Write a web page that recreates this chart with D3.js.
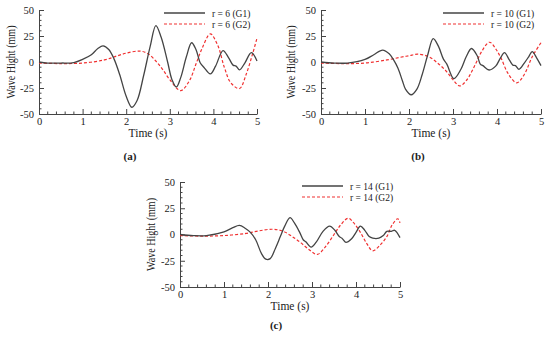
<!DOCTYPE html>
<html>
<head>
<meta charset="utf-8">
<script src="https://cdn.jsdelivr.net/npm/d3@7"></script>
<style>
  body { margin: 0; background: #fff; }
  svg text { font-family: "Liberation Serif", "Times New Roman", Times, serif; fill: #222; }
</style>
</head>
<body>
<script>
// wave heights (mm), time in s
var timeTicks = [0, 1, 2, 3, 4, 5];
var heightTicks = [-50, -25, 0, 25, 50];

var a_g1 = [[0,0],[0.2,-1],[0.5,-1],[0.8,-0.5],[1.0,2.5],[1.2,7],[1.35,13],[1.47,15.5],[1.6,12],[1.72,3],[1.85,-12],[2.0,-33],[2.13,-43.5],[2.25,-37],[2.4,-13],[2.55,15],[2.68,35],[2.8,24],[2.95,0],[3.05,-17],[3.15,-24],[3.25,-15],[3.38,5],[3.5,18.5],[3.6,12],[3.7,-1],[3.78,-5],[3.93,-11.5],[4.05,-4],[4.22,11],[4.35,4],[4.45,-3],[4.52,-4],[4.6,-7.5],[4.72,-1],[4.87,9],[5.0,1]];
var a_g2 = [[0,-1],[0.5,-1.5],[1.0,-1],[1.5,2],[1.8,6],[2.0,8.5],[2.3,10.5],[2.5,8],[2.7,0],[2.85,-8],[3.0,-17],[3.25,-27.5],[3.45,-18],[3.6,-2],[3.75,14],[3.93,27],[4.1,16],[4.25,-5],[4.4,-20],[4.6,-25.5],[4.75,-12],[4.9,8],[5.0,23]];

var b_g1 = [[0,0],[0.3,-1],[0.6,-1],[1.0,2.5],[1.2,7],[1.4,11.5],[1.55,8],[1.65,2],[1.75,-6],[1.85,-18],[1.92,-26],[2.05,-31.5],[2.18,-26],[2.3,-12],[2.42,6],[2.55,22.5],[2.67,15],[2.78,3],[2.86,-2],[3.02,-16],[3.18,-7],[3.3,5],[3.42,13],[3.55,6],[3.62,-2],[3.68,-3.5],[3.82,-7.7],[3.97,-4],[4.08,4],[4.17,9],[4.28,2],[4.36,-3],[4.42,-3.5],[4.5,-7],[4.62,-1],[4.72,5],[4.8,10],[4.9,4],[5.0,-3.5]];
var b_g2 = [[0,-1],[0.5,-1.5],[1.0,-1],[1.5,2],[1.8,4.5],[2.0,6],[2.2,7.5],[2.45,5],[2.65,-1],[2.85,-9],[3.0,-17],[3.15,-23],[3.3,-18],[3.5,-3],[3.65,10],[3.83,19],[3.98,12],[4.1,3],[4.25,-11],[4.45,-20],[4.62,-12],[4.8,5],[5.0,18.5]];

var c_g1 = [[0,0],[0.3,-1],[0.6,-1],[1.0,2.5],[1.2,6.5],[1.35,8.7],[1.48,6],[1.6,2],[1.72,-5],[1.85,-18],[1.95,-23.5],[2.05,-23],[2.17,-13],[2.28,-2],[2.38,8],[2.5,16],[2.6,11],[2.72,2],[2.8,-5],[2.86,-7],[2.98,-12],[3.1,-7],[3.25,3],[3.4,8],[3.52,4],[3.62,-2],[3.68,-3.5],[3.77,-7.5],[3.9,-4],[4.0,2],[4.1,8],[4.2,4],[4.3,-2],[4.38,-3.5],[4.52,-3.5],[4.62,-1],[4.7,3],[4.8,3],[4.88,4],[5.0,-3]];
var c_g2 = [[0,-1],[0.5,-1.5],[1.0,-1],[1.5,1],[1.8,3.5],[2.1,5],[2.35,3],[2.55,-2],[2.75,-8],[2.95,-15],[3.12,-19],[3.3,-12],[3.5,0],[3.65,9],[3.82,15.5],[3.95,11],[4.1,2],[4.25,-9],[4.38,-15.5],[4.55,-10],[4.7,-2],[4.82,9],[4.95,15],[5.0,11]];

var legendNames = [["r = 6 (G1)", "r = 6 (G2)"], ["r = 10 (G1)", "r = 10 (G2)"], ["r = 14 (G1)", "r = 14 (G2)"]];
var panelTags = ["(a)", "(b)", "(c)"];

var width = 550;
var height = 340;
var serif = '"Liberation Serif", "Times New Roman", Times, serif';

var svg = d3.select("body")
  .append("svg")
  .attr("width", width)
  .attr("height", height)
  .attr("font-family", serif);

// box of each panel: left, right, top, bottom
var panels = [
  {x0: 39, x1: 257, y0: 10, y1: 114, g1: a_g1, g2: a_g2, legX: 164, legY: 13, tagX: 130, tagY: 156, ytX: 11},
  {x0: 321, x1: 541, y0: 10, y1: 114, g1: b_g1, g2: b_g2, legX: 443, legY: 13, tagX: 418, tagY: 156, ytX: 291},
  {x0: 180, x1: 400, y0: 182, y1: 287, g1: c_g1, g2: c_g2, legX: 302, legY: 186, tagX: 276, tagY: 325, ytX: 151}
];

// plain hyphen for negatives, as in the picture
var fmt = function(d) { return String(d); };

panels.forEach(function(p, i) {
  var x = d3.scaleLinear().domain([0, 5]).range([p.x0, p.x1]);
  var y = d3.scaleLinear().domain([-50, 50]).range([p.y1, p.y0]);
  var g = svg.append("g");

  // minor ticks
  var xMinor = d3.range(0, 5.001, 0.2).filter(function(t) { return Math.abs(t - Math.round(t)) > 0.01; });
  var yMinor = d3.range(-50, 50.001, 5).filter(function(v) { return v % 25 !== 0; });

  var xAxis = d3.axisBottom(x).tickValues(timeTicks).tickFormat(fmt).tickSizeInner(-5).tickSizeOuter(0).tickPadding(4);
  var gx = g.append("g").attr("transform", "translate(0," + p.y1 + ")").call(xAxis);
  gx.selectAll("line.minor").data(xMinor).enter().append("line")
    .attr("x1", function(d) { return x(d); }).attr("x2", function(d) { return x(d); })
    .attr("y1", 0).attr("y2", -2.5).attr("stroke", "#444");

  var yAxis = d3.axisLeft(y).tickValues(heightTicks).tickFormat(fmt).tickSizeInner(-5).tickSizeOuter(0).tickPadding(5);
  var gy = g.append("g").attr("transform", "translate(" + p.x0 + ",0)").call(yAxis);
  gy.selectAll("line.minor").data(yMinor).enter().append("line")
    .attr("x1", 0).attr("x2", 2.5)
    .attr("y1", function(d) { return y(d); }).attr("y2", function(d) { return y(d); })
    .attr("stroke", "#444");

  g.selectAll("g").attr("font-family", serif).attr("font-size", 10.5);
  g.selectAll(".domain").attr("stroke", "#444");
  g.selectAll(".tick line").attr("stroke", "#444");
  g.selectAll(".tick text").attr("fill", "#222");

  var line = d3.line()
    .x(function(d) { return x(d[0]); })
    .y(function(d) { return y(d[1]); })
    .curve(d3.curveCatmullRom.alpha(0.5));

  g.append("path").datum(p.g2).attr("d", line)
    .attr("fill", "none").attr("stroke", "#f03030").attr("stroke-width", 1.2)
    .attr("stroke-dasharray", "3,2");
  g.append("path").datum(p.g1).attr("d", line)
    .attr("fill", "none").attr("stroke", "#444").attr("stroke-width", 1.3);

  // legend
  var leg = g.append("g").attr("transform", "translate(" + p.legX + "," + p.legY + ")");
  leg.append("line").attr("x1", 0).attr("x2", 41).attr("y1", 0).attr("y2", 0)
    .attr("stroke", "#444").attr("stroke-width", 1.3);
  leg.append("line").attr("x1", 0).attr("x2", 41).attr("y1", 11).attr("y2", 11)
    .attr("stroke", "#f03030").attr("stroke-width", 1.2).attr("stroke-dasharray", "3,2");
  leg.append("text").attr("x", 48).attr("y", 3.5).attr("font-size", 9.5).text(legendNames[i][0]);
  leg.append("text").attr("x", 48).attr("y", 14.5).attr("font-size", 9.5).text(legendNames[i][1]);

  // axis titles
  g.append("text")
    .attr("x", (p.x0 + p.x1) / 2).attr("y", p.y1 + 23)
    .attr("text-anchor", "middle").attr("font-size", 11.5).text("Time (s)");
  g.append("text")
    .attr("transform", "translate(" + p.ytX + "," + (p.y0 + p.y1) / 2 + ") rotate(-90)")
    .attr("dy", "0.35em")
    .attr("text-anchor", "middle").attr("font-size", 12)
    .attr("textLength", 73).attr("lengthAdjust", "spacingAndGlyphs")
    .text("Wave Hight (mm)");

  g.append("text")
    .attr("x", p.tagX).attr("y", p.tagY).attr("dy", "0.35em")
    .attr("text-anchor", "middle").attr("font-size", 11).attr("font-weight", "bold")
    .text(panelTags[i]);
});
</script>
</body>
</html>
